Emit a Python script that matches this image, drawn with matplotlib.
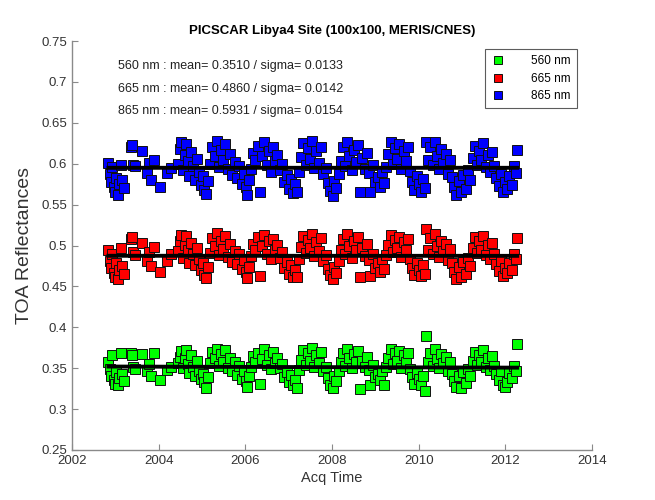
import matplotlib
matplotlib.use("Agg")
import matplotlib.pyplot as plt
import numpy as np

plt.rcParams["font.family"] = ["Liberation Sans", "DejaVu Sans"]

# acquisition dates (decimal years), same for the three bands
acq_time = [
    2002.84, 2002.87, 2002.90, 2002.93, 2002.96, 2002.99, 2003.02, 2003.05, 2003.08, 2003.12, 2003.16, 2003.21,
    2003.35, 2003.38, 2003.41, 2003.45, 2003.62, 2003.74, 2003.77, 2003.82, 2003.90, 2004.03, 2004.20, 2004.29,
    2004.45, 2004.49, 2004.52, 2004.56, 2004.60, 2004.63, 2004.67, 2004.71, 2004.75, 2004.79, 2004.83, 2004.88,
    2004.92, 2004.97,
    2005.01, 2005.05, 2005.09, 2005.14, 2005.19, 2005.24, 2005.29, 2005.34, 2005.39, 2005.44, 2005.49, 2005.54,
    2005.59, 2005.64, 2005.69, 2005.75, 2005.80, 2005.86, 2005.91, 2005.96,
    2006.01, 2006.04, 2006.08, 2006.13, 2006.18, 2006.23, 2006.28, 2006.34, 2006.39, 2006.44, 2006.49, 2006.54,
    2006.59, 2006.64, 2006.69, 2006.74, 2006.80, 2006.85, 2006.90, 2006.96,
    2007.01, 2007.05, 2007.10, 2007.15, 2007.19, 2007.24, 2007.29, 2007.34, 2007.39, 2007.44, 2007.49, 2007.54,
    2007.59, 2007.64, 2007.69, 2007.74, 2007.80, 2007.85, 2007.90, 2007.96,
    2008.01, 2008.05, 2008.10, 2008.15, 2008.20, 2008.25, 2008.30, 2008.35, 2008.40, 2008.45, 2008.50, 2008.55,
    2008.60, 2008.65, 2008.70, 2008.75, 2008.80, 2008.85, 2008.88, 2008.94,
    2009.00, 2009.05, 2009.10, 2009.15, 2009.20, 2009.25, 2009.30, 2009.35, 2009.40, 2009.45, 2009.50, 2009.55,
    2009.60, 2009.65, 2009.70, 2009.75, 2009.80, 2009.85, 2009.90, 2009.95,
    2010.00, 2010.05, 2010.10, 2010.15, 2010.17, 2010.22, 2010.27, 2010.32, 2010.37, 2010.42, 2010.47, 2010.52,
    2010.57, 2010.62, 2010.67, 2010.72, 2010.77, 2010.82, 2010.87, 2010.93,
    2010.98, 2011.03, 2011.08, 2011.13, 2011.19, 2011.24, 2011.29, 2011.34, 2011.39, 2011.44, 2011.49, 2011.54,
    2011.59, 2011.64, 2011.69, 2011.74, 2011.79, 2011.84, 2011.89, 2011.94,
    2011.99, 2012.04, 2012.09, 2012.14, 2012.19, 2012.24, 2012.27,
]

toa_865 = [
    0.601, 0.588, 0.578, 0.596, 0.572, 0.566, 0.583, 0.562, 0.575, 0.598, 0.580, 0.570,
    0.620, 0.623, 0.599, 0.597, 0.615, 0.589, 0.601, 0.580, 0.604, 0.572, 0.589, 0.595,
    0.600, 0.618, 0.626, 0.592, 0.611, 0.624, 0.603, 0.585, 0.614, 0.597, 0.580, 0.606,
    0.590, 0.574,
    0.585, 0.568, 0.563, 0.579, 0.600, 0.621, 0.610, 0.628, 0.596, 0.617, 0.605, 0.624,
    0.593, 0.612, 0.586, 0.602, 0.583, 0.597, 0.575, 0.588,
    0.571, 0.562, 0.580, 0.594, 0.613, 0.604, 0.622, 0.566, 0.609, 0.626, 0.598, 0.616,
    0.590, 0.620, 0.603, 0.611, 0.592, 0.600, 0.578, 0.586,
    0.569, 0.581, 0.564, 0.575, 0.566, 0.590, 0.608, 0.625, 0.599, 0.619, 0.606, 0.628,
    0.595, 0.615, 0.601, 0.621, 0.587, 0.595, 0.576, 0.567,
    0.561, 0.579, 0.570, 0.588, 0.603, 0.620, 0.597, 0.627, 0.610, 0.592, 0.617, 0.602,
    0.623, 0.565, 0.607, 0.594, 0.613, 0.589, 0.566, 0.598,
    0.578, 0.584, 0.572, 0.590, 0.576, 0.596, 0.612, 0.626, 0.600, 0.619, 0.606, 0.624,
    0.593, 0.615, 0.603, 0.620, 0.591, 0.578, 0.568, 0.585,
    0.575, 0.566, 0.581, 0.570, 0.626, 0.604, 0.621, 0.598, 0.627, 0.609, 0.593, 0.618,
    0.601, 0.612, 0.588, 0.605, 0.584, 0.571, 0.562, 0.579,
    0.565, 0.586, 0.569, 0.592, 0.580, 0.607, 0.622, 0.599, 0.616, 0.604, 0.625, 0.596,
    0.611, 0.590, 0.614, 0.597, 0.583, 0.573, 0.588, 0.566,
    0.578, 0.569, 0.585, 0.574, 0.597, 0.589, 0.617,
]

toa_665 = [
    0.495, 0.481, 0.472, 0.490, 0.466, 0.462, 0.478, 0.459, 0.470, 0.497, 0.475, 0.465,
    0.508, 0.511, 0.492, 0.488, 0.503, 0.481, 0.492, 0.475, 0.498, 0.468, 0.481, 0.490,
    0.493, 0.506, 0.513, 0.485, 0.501, 0.512, 0.494, 0.479, 0.503, 0.489, 0.476, 0.497,
    0.483, 0.470,
    0.478, 0.464, 0.460, 0.474, 0.491, 0.509, 0.500, 0.515, 0.488, 0.506, 0.496, 0.512,
    0.486, 0.502, 0.480, 0.493, 0.477, 0.489, 0.471, 0.482,
    0.467, 0.460, 0.474, 0.487, 0.502, 0.495, 0.510, 0.463, 0.499, 0.513, 0.490, 0.505,
    0.484, 0.508, 0.494, 0.501, 0.485, 0.492, 0.473, 0.480,
    0.465, 0.476, 0.461, 0.470, 0.462, 0.483, 0.498, 0.512, 0.491, 0.507, 0.497, 0.514,
    0.487, 0.504, 0.493, 0.509, 0.481, 0.488, 0.471, 0.464,
    0.459, 0.474, 0.466, 0.481, 0.494, 0.508, 0.489, 0.514, 0.500, 0.485, 0.506, 0.494,
    0.510, 0.462, 0.497, 0.487, 0.502, 0.482, 0.463, 0.490,
    0.473, 0.478, 0.468, 0.483, 0.471, 0.488, 0.501, 0.513, 0.492, 0.507, 0.497, 0.511,
    0.486, 0.504, 0.494, 0.508, 0.484, 0.473, 0.464, 0.479,
    0.470, 0.463, 0.476, 0.465, 0.520, 0.495, 0.509, 0.490, 0.514, 0.499, 0.486, 0.506,
    0.493, 0.502, 0.482, 0.496, 0.478, 0.467, 0.459, 0.474,
    0.462, 0.480, 0.465, 0.485, 0.475, 0.497, 0.510, 0.491, 0.505, 0.495, 0.512, 0.488,
    0.501, 0.483, 0.503, 0.489, 0.477, 0.469, 0.481, 0.463,
    0.473, 0.466, 0.479, 0.470, 0.489, 0.483, 0.509,
]

toa_560 = [
    0.358, 0.349, 0.340, 0.366, 0.335, 0.331, 0.345, 0.329, 0.338, 0.368, 0.343, 0.334,
    0.368, 0.366, 0.352, 0.349, 0.367, 0.346, 0.355, 0.341, 0.368, 0.335, 0.348, 0.352,
    0.356, 0.364, 0.371, 0.350, 0.362, 0.372, 0.355, 0.344, 0.366, 0.352, 0.341, 0.359,
    0.347, 0.337,
    0.343, 0.333, 0.326, 0.339, 0.356, 0.370, 0.362, 0.374, 0.353, 0.367, 0.358, 0.372,
    0.350, 0.363, 0.346, 0.357, 0.342, 0.353, 0.337, 0.347,
    0.334, 0.327, 0.340, 0.351, 0.365, 0.357, 0.369, 0.331, 0.361, 0.373, 0.354, 0.366,
    0.349, 0.370, 0.356, 0.362, 0.350, 0.355, 0.339, 0.345,
    0.333, 0.342, 0.329, 0.336, 0.326, 0.348, 0.360, 0.372, 0.354, 0.368, 0.359, 0.375,
    0.352, 0.366, 0.356, 0.370, 0.346, 0.352, 0.338, 0.330,
    0.326, 0.340, 0.334, 0.346, 0.357, 0.369, 0.353, 0.374, 0.362, 0.350, 0.367, 0.357,
    0.371, 0.325, 0.359, 0.351, 0.364, 0.348, 0.329, 0.354,
    0.339, 0.343, 0.336, 0.347, 0.329, 0.352, 0.363, 0.373, 0.355, 0.368, 0.359, 0.371,
    0.350, 0.366, 0.357, 0.369, 0.349, 0.339, 0.331, 0.344,
    0.337, 0.330, 0.341, 0.322, 0.389, 0.357, 0.369, 0.353, 0.374, 0.361, 0.350, 0.367,
    0.356, 0.364, 0.347, 0.358, 0.343, 0.334, 0.327, 0.340,
    0.326, 0.345, 0.332, 0.349, 0.341, 0.359, 0.370, 0.354, 0.366, 0.357, 0.372, 0.352,
    0.363, 0.348, 0.365, 0.353, 0.343, 0.336, 0.346, 0.330,
    0.327, 0.333, 0.344, 0.338, 0.353, 0.347, 0.379,
]

bands = ["560 nm", "665 nm", "865 nm"]
stats_text = [
    "560 nm : mean= 0.3510 / sigma= 0.0133",
    "665 nm : mean= 0.4860 / sigma= 0.0142",
    "865 nm : mean= 0.5931 / sigma= 0.0154",
]
colors = ["#00ff00", "#ff0000", "#0000ff"]

fig = plt.figure(figsize=(6.55, 5.00), dpi=100)
ax = fig.add_axes([0.110, 0.100, 0.794, 0.818])

t = np.array(acq_time)
for vals, lab, col in zip([toa_560, toa_665, toa_865], bands, colors):
    ax.plot(t, vals, "s", color=col, mec="#111111", mew=0.7, ms=7.5, label=lab, zorder=2)
    p = np.polyfit(t, vals, 1)
    tt = np.array([t.min(), t.max()])
    ax.plot(tt, np.polyval(p, tt), "-", color="black", lw=2.8, zorder=3)

ax.set_xlim(2002, 2014)
ax.set_ylim(0.25, 0.75)
ax.set_xticks(np.arange(2002, 2015, 2))
ax.set_yticks(np.arange(0.25, 0.76, 0.05))
ax.set_yticklabels(["0.25", "0.3", "0.35", "0.4", "0.45", "0.5", "0.55", "0.6", "0.65", "0.7", "0.75"])

for s in ["top", "right"]:
    ax.spines[s].set_visible(False)
for s in ["left", "bottom"]:
    ax.spines[s].set_color("#8a8a8a")
    ax.spines[s].set_linewidth(1.0)
ax.tick_params(direction="in", length=4, color="#8a8a8a", labelsize=9.5, labelcolor="#333333")

ax.set_title("PICSCAR Libya4 Site (100x100, MERIS/CNES)", fontsize=9.5, fontweight="bold", pad=5)
ax.set_xlabel("Acq Time", fontsize=10.5, color="#333333", labelpad=3)
ax.set_ylabel("TOA Reflectances", fontsize=14, color="#333333", labelpad=6)

for i, txt in enumerate(stats_text):
    ax.text(2003.05, 0.719 - i * 0.0275, txt, fontsize=9, color="#222222", va="center")

leg = ax.legend(loc="upper right", bbox_to_anchor=(0.975, 0.985), fontsize=8.5, frameon=True,
                fancybox=False, edgecolor="#333333", handlelength=1.2, handletextpad=2.2,
                borderpad=0.5, labelspacing=0.45, borderaxespad=0.2, markerscale=0.85)
leg.get_frame().set_linewidth(0.8)

fig.savefig("out.png", dpi=100)
